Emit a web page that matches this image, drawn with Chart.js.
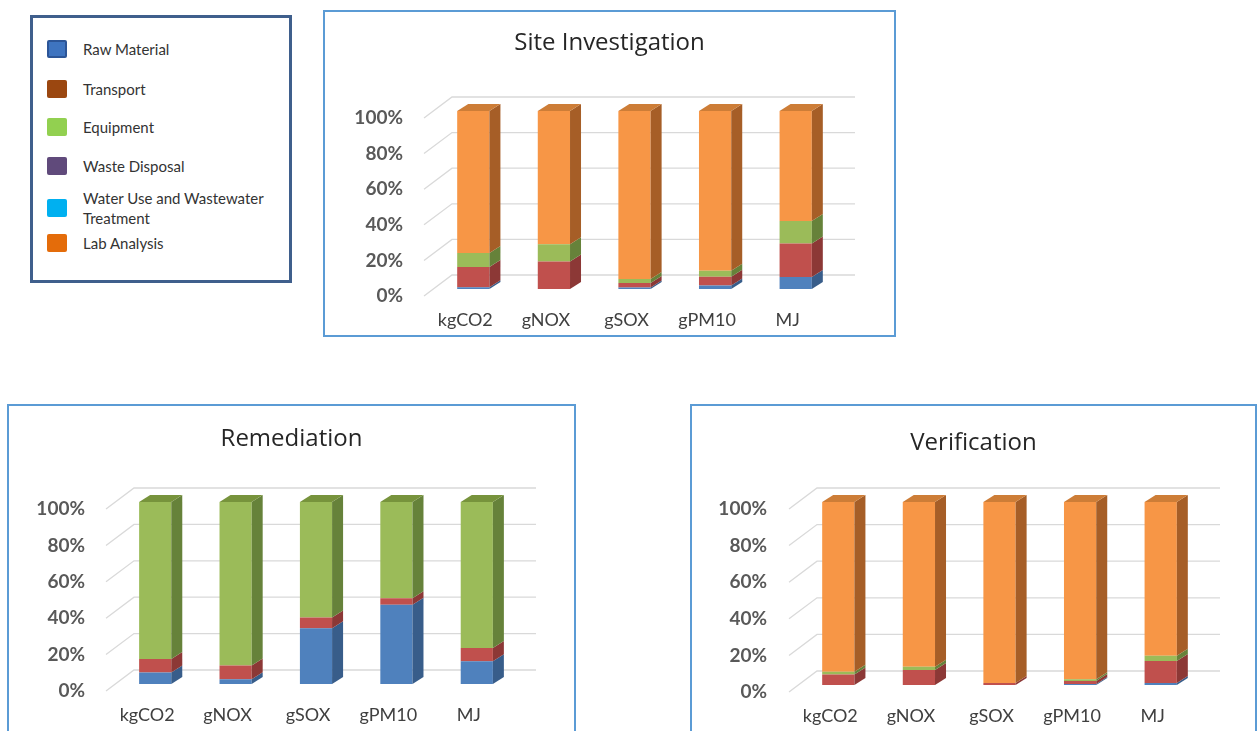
<!DOCTYPE html>
<html>
<head>
<meta charset="utf-8">
<script src="https://cdn.jsdelivr.net/npm/chart.js@4.4.0/dist/chart.umd.min.js"></script>
<style>
body { margin: 0; width: 1259px; height: 731px; overflow: hidden; background: #fff; position: relative; font-family: Lato, sans-serif; }
.box { position: absolute; border: 2px solid #5b9bd5; background: #fff; }
.box canvas { display: block; }
#legend { position: absolute; left: 30px; top: 15px; width: 256px; height: 262px; border: 3px solid #3f5f8c; }
.item { position: absolute; left: 14px; display: flex; align-items: center; font-size: 15px; color: #333; line-height: 20px; }
.sw { width: 20px; height: 18px; margin-right: 16px; flex: none; box-sizing: border-box; border-radius: 2px; }
</style>
</head>
<body>
<div id="legend"></div>
<div class="box" style="left:323px;top:10px;"><canvas id="siteChart" width="569" height="323"></canvas></div>
<div class="box" style="left:7px;top:404px;"><canvas id="remChart" width="565" height="340"></canvas></div>
<div class="box" style="left:690px;top:404px;"><canvas id="verChart" width="563" height="340"></canvas></div>
<script>
const categories = ['kgCO2', 'gNOX', 'gSOX', 'gPM10', 'MJ'];
const seriesNames = ['Raw Material', 'Transport', 'Equipment', 'Waste Disposal', 'Water Use and Wastewater Treatment', 'Lab Analysis'];

// Site Investigation (% share)
const siteRaw       = [1.0, 0.0, 0.8, 1.9, 6.7];
const siteTransport = [11.4, 15.5, 2.6, 5.0, 18.9];
const siteEquipment = [7.8, 9.7, 2.2, 3.4, 12.6];
const siteWaste     = [0, 0, 0, 0, 0];
const siteWater     = [0, 0, 0, 0, 0];
const siteLab       = [79.8, 74.8, 94.4, 89.7, 61.8];

// Remediation
const remRaw       = [6.3, 2.6, 30.6, 43.6, 12.5];
const remTransport = [7.5, 7.5, 6.0, 3.5, 7.3];
const remEquipment = [86.2, 89.9, 63.4, 52.9, 80.2];
const remWaste     = [0, 0, 0, 0, 0];
const remWater     = [0, 0, 0, 0, 0];
const remLab       = [0, 0, 0, 0, 0];

// Verification
const verRaw       = [0, 0, 0, 0.5, 1.1];
const verTransport = [5.8, 8.2, 1.1, 1.7, 12.0];
const verEquipment = [1.5, 1.8, 0, 0.9, 2.9];
const verWaste     = [0, 0, 0, 0, 0];
const verWater     = [0, 0, 0, 0, 0];
const verLab       = [92.7, 90.0, 98.9, 96.9, 84.0];

const frontColors = ['#4f81bd', '#c0504d', '#9bbb59', '#8064a2', '#4bacc6', '#f79646'];
const sideColors  = ['#385d8a', '#8c3836', '#66823a', '#5c4776', '#31859c', '#a65e27'];
const topColors   = ['#4672a8', '#a84542', '#77933c', '#6b5389', '#3d97ae', '#cd7d37'];
const legendColors = ['#3e74c0', '#9b4710', '#92d050', '#604a7b', '#00b0f0', '#e46c0a'];

// legend (HTML)
const legendTops = [21, 61, 99, 138, 170, 215];
const legend = document.getElementById('legend');
seriesNames.forEach((name, i) => {
    const item = document.createElement('div');
    item.className = 'item';
    item.style.top = legendTops[i] + 'px';
    const border = i === 0 ? '2px solid #2c5597' : 'none';
    const label = i === 4 ? 'Water Use and Wastewater<br>Treatment' : name;
    item.innerHTML = `<span class="sw" style="background:${legendColors[i]};border:${border}"></span><span>${label}</span>`;
    legend.appendChild(item);
});

const dx = 11, dy = 7;

// back wall gridlines + 3D side/top faces
const depthPlugin = {
    id: 'depth',
    beforeDatasetsDraw(chart) {
        const { ctx, chartArea: a, scales: { y } } = chart;
        ctx.save();
        ctx.strokeStyle = '#d9d9d9';
        ctx.lineWidth = 1.3;
        y.ticks.forEach(t => {
            const py = y.getPixelForValue(t.value);
            ctx.beginPath();
            ctx.moveTo(a.left - 9, py + 7);
            ctx.lineTo(a.left + 19, py - 14);
            ctx.lineTo(a.right + 19, py - 14);
            ctx.stroke();
        });
        ctx.restore();
    },
    afterDatasetsDraw(chart) {
        const ctx = chart.ctx;
        ctx.save();
        chart.data.labels.forEach((_, j) => {
            let topEl = null, topDs = null;
            chart.data.datasets.forEach((ds, i) => {
                if (!ds.data[j]) return;
                const el = chart.getDatasetMeta(i).data[j];
                const r = el.x + el.width / 2;
                ctx.fillStyle = ds.sideColor;
                ctx.beginPath();
                ctx.moveTo(r, el.y);
                ctx.lineTo(r + dx, el.y - dy);
                ctx.lineTo(r + dx, el.base - dy);
                ctx.lineTo(r, el.base);
                ctx.closePath();
                ctx.fill();
                topEl = el; topDs = ds;
            });
            if (topEl) {
                const l = topEl.x - topEl.width / 2, r = topEl.x + topEl.width / 2;
                ctx.fillStyle = topDs.topColor;
                ctx.beginPath();
                ctx.moveTo(l, topEl.y);
                ctx.lineTo(l + dx, topEl.y - dy);
                ctx.lineTo(r + dx, topEl.y - dy);
                ctx.lineTo(r, topEl.y);
                ctx.closePath();
                ctx.fill();
            }
        });
        ctx.restore();
    }
};

function build(id, title, series, g) {
    const datasets = series.map((data, i) => ({
        label: seriesNames[i],
        data: data,
        backgroundColor: frontColors[i],
        sideColor: sideColors[i],
        topColor: topColors[i],
        borderWidth: 0,
        barPercentage: 0.4,
        categoryPercentage: 1
    }));
    return new Chart(document.getElementById(id), {
        type: 'bar',
        data: { labels: categories, datasets: datasets },
        options: {
            responsive: false,
            animation: false,
            plugins: {
                legend: { display: false },
                tooltip: { enabled: false },
                title: {
                    display: true,
                    text: title,
                    color: '#262626',
                    font: { family: 'Open Sans', size: 24, weight: 'normal' },
                    padding: { top: g.titleTop, bottom: g.titleBottom }
                }
            },
            scales: {
                x: {
                    stacked: true,
                    grid: { display: false, drawTicks: false },
                    border: { display: false },
                    afterFit: s => { s.height = g.xH; },
                    ticks: { padding: 20, labelOffset: -8, color: '#404040', font: { family: 'Lato', size: 18 } }
                },
                y: {
                    stacked: true,
                    min: 0,
                    max: 100,
                    grid: { display: false, drawTicks: false },
                    border: { display: false },
                    afterFit: s => { s.width = g.left; },
                    ticks: {
                        stepSize: 20,
                        padding: g.yPad,
                        labelOffset: 7,
                        color: '#595959',
                        font: { family: 'Lato', size: 19, weight: 'bold' },
                        callback: v => v + '%'
                    }
                },
                // empty axis: reserves the space right of the plot
                gap: {
                    type: 'linear',
                    position: 'right',
                    grid: { display: false, drawTicks: false },
                    border: { display: false },
                    ticks: { display: false },
                    afterFit: s => { s.width = g.right; }
                }
            }
        },
        plugins: [depthPlugin]
    });
}

build('siteChart', 'Site Investigation',
    [siteRaw, siteTransport, siteEquipment, siteWaste, siteWater, siteLab],
    { left: 108, right: 58, titleTop: 16.6, titleBottom: 53.6, xH: 46, yPad: 30 });
build('remChart', 'Remediation',
    [remRaw, remTransport, remEquipment, remWaste, remWater, remLab],
    { left: 106, right: 57, titleTop: 18.6, titleBottom: 48.6, xH: 62, yPad: 30 });
build('verChart', 'Verification',
    [verRaw, verTransport, verEquipment, verWaste, verWater, verLab],
    { left: 106, right: 54, titleTop: 22.6, titleBottom: 44.6, xH: 61, yPad: 31 });
</script>
</body>
</html>
